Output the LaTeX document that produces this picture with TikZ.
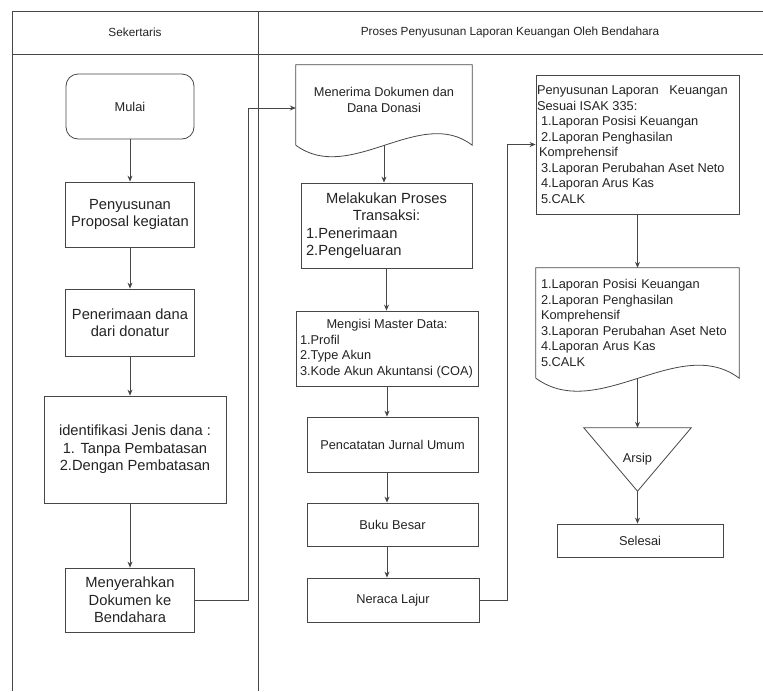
\documentclass[tikz,border=0pt]{standalone}
\usepackage{fontspec}
\setmainfont{Liberation Sans}
\definecolor{linegray}{RGB}{70, 70, 70}
\definecolor{textgray}{RGB}{35, 35, 35}
\usetikzlibrary{arrows.meta, calc}
\newcommand{\headfont}{\fontsize{11.8}{14}\selectfont}
\newcommand{\boxfont}{\fontsize{12.8}{15.5}\selectfont}
\newcommand{\bigboxfont}{\fontsize{14.7}{17.5}\selectfont}

\begin{document}
\begin{tikzpicture}[x=1pt, y=-1pt,
  lane/.style={draw=linegray, line width=0.8pt},
  box/.style={draw=linegray, line width=0.8pt, align=center, inner sep=4pt, text=textgray, font=\boxfont},
  docnode/.style={align=left, inner sep=4pt, text=textgray, font=\boxfont},
  arr/.style={-{Stealth[length=6pt, width=5pt]}, draw=linegray, line width=0.8pt}
]
  \useasboundingbox (0,0) rectangle (763,691);

  % Swimlanes
  \draw[lane] (763,11) -- (12,11) -- (12,691);
  \draw[lane] (12,54) -- (763,54);
  \draw[lane] (258,11) -- (258,691);
  \node[font=\headfont, text=textgray] (lanesek) at (135,32) {Sekertaris};
  \node[font=\headfont, text=textgray] (laneben) at (510,32) {Proses Penyusunan Laporan Keuangan Oleh Bendahara};

  % Sekertaris
  \node[box, rounded corners=12pt, minimum width=128pt, minimum height=65pt] (mulai) at (130,106.5) {Mulai};
  \node[box, font=\bigboxfont, minimum width=129pt, minimum height=65pt] (susun) at (130,214.5) {Penyusunan\\Proposal kegiatan};
  \node[box, font=\bigboxfont, minimum width=129pt, minimum height=67pt] (dana) at (130,322.5) {Penerimaan dana\\dari donatur};
  \node[box, font=\bigboxfont, minimum width=182pt, minimum height=107pt] (jenis) at (135,449.5) {identifikasi Jenis dana :\\1. Tanpa Pembatasan\\2.Dengan Pembatasan};
  \node[box, font=\bigboxfont, minimum width=129pt, minimum height=64pt] (serah) at (130,600) {Menyerahkan\\Dokumen ke\\Bendahara};

  \draw[arr] (mulai) -- (susun);
  \draw[arr] (susun) -- (dana);
  \draw[arr] (dana) -- (dana |- jenis.north);
  \draw[arr] (jenis.south -| serah) -- (serah);

  % Bendahara, tengah
  \node[docnode, align=center, minimum width=176pt, minimum height=70pt] (terima) at (384,100) {Menerima Dokumen dan\\Dana Donasi};
  \draw[lane] ($(terima.south west)+(0,10)$) -- (terima.north west) -- (terima.north east) -- ($(terima.south east)+(0,10)$)
    .. controls +(-52,-40) and +(54,40) .. ($(terima.south west)+(0,10)$);
  \coordinate (terimabot) at ($(terima.south)+(0,10)$);
  \node[box, font=\bigboxfont, align=none, text width=161pt, inner xsep=5pt, minimum height=85pt] (transaksi) at (386.5,225.5)
    {\centering Melakukan Proses\\Transaksi:\par\raggedright 1.Penerimaan\\2.Pengeluaran\par};
  \node[box, align=none, text width=174pt, minimum height=75pt] (master) at (387,348.5)
    {\centering Mengisi Master Data:\par\raggedright 1.Profil\\2.Type Akun\\3.Kode Akun Akuntansi (COA)\par};
  \node[box, minimum width=171pt, minimum height=55pt] (jurnal) at (392.5,444.5) {Pencatatan Jurnal Umum};
  \node[box, minimum width=171pt, minimum height=43pt] (buku) at (392.5,524.5) {Buku Besar};
  \node[box, minimum width=172pt, minimum height=44pt] (neraca) at (393,600) {Neraca Lajur};

  \draw[arr] (serah.east) -- ++(53,0) |- ($(terima.west)+(0,8)$);
  \draw[arr] (terimabot) -- (terimabot |- transaksi.north);
  \draw[arr] (transaksi.south) -- (transaksi.south |- master.north);
  \draw[arr] (master.south) -- (master.south |- jurnal.north);
  \draw[arr] (jurnal.south -| master) -- (buku.north -| master);
  \draw[arr] (buku.south -| master) -- (neraca.north -| master);

  % Bendahara, kanan
  \node[box, align=none, text width=201pt, inner xsep=1pt, minimum height=139pt] (susunlap) at (637.5,144.5)
    {\raggedright Penyusunan Laporan\ \ \ Keuangan\\Sesuai ISAK 335:\\
     \hspace*{4pt}1.Laporan Posisi Keuangan\\\hspace*{4pt}2.Laporan Penghasilan\\\hspace*{2pt}Komprehensif\\
     \hspace*{4pt}3.Laporan Perubahan Aset Neto\\\hspace*{4pt}4.Laporan Arus Kas\\\hspace*{4pt}5.CALK\par};
  \node[docnode, text width=193pt, inner xsep=5pt, minimum height=110pt] (laporan) at (637.5,323)
    {1.Laporan Posisi Keuangan\\2.Laporan Penghasilan\\Komprehensif\\3.Laporan Perubahan Aset Neto\\4.Laporan Arus Kas\\5.CALK};
  \draw[lane] (laporan.south west) -- (laporan.north west) -- (laporan.north east) -- (laporan.south east)
    .. controls +(-60,-45) and +(62,45) .. (laporan.south west);
  \node[docnode, minimum width=107pt, minimum height=63pt] (arsip) at (637.5,459.5) {Arsip};
  \draw[lane] (arsip.north west) -- (arsip.north east) -- (arsip.south) -- cycle;
  \node[box, minimum width=166pt, minimum height=33pt] (selesai) at (640,540.5) {Selesai};

  \draw[arr] (neraca.east) -- ++(28,0) |- (susunlap.west);
  \draw[arr] (susunlap) -- (laporan);
  \draw[arr] (laporan.south) -- (arsip.north);
  \draw[arr] (arsip.south) -- (arsip.south |- selesai.north);
\end{tikzpicture}
\end{document}
